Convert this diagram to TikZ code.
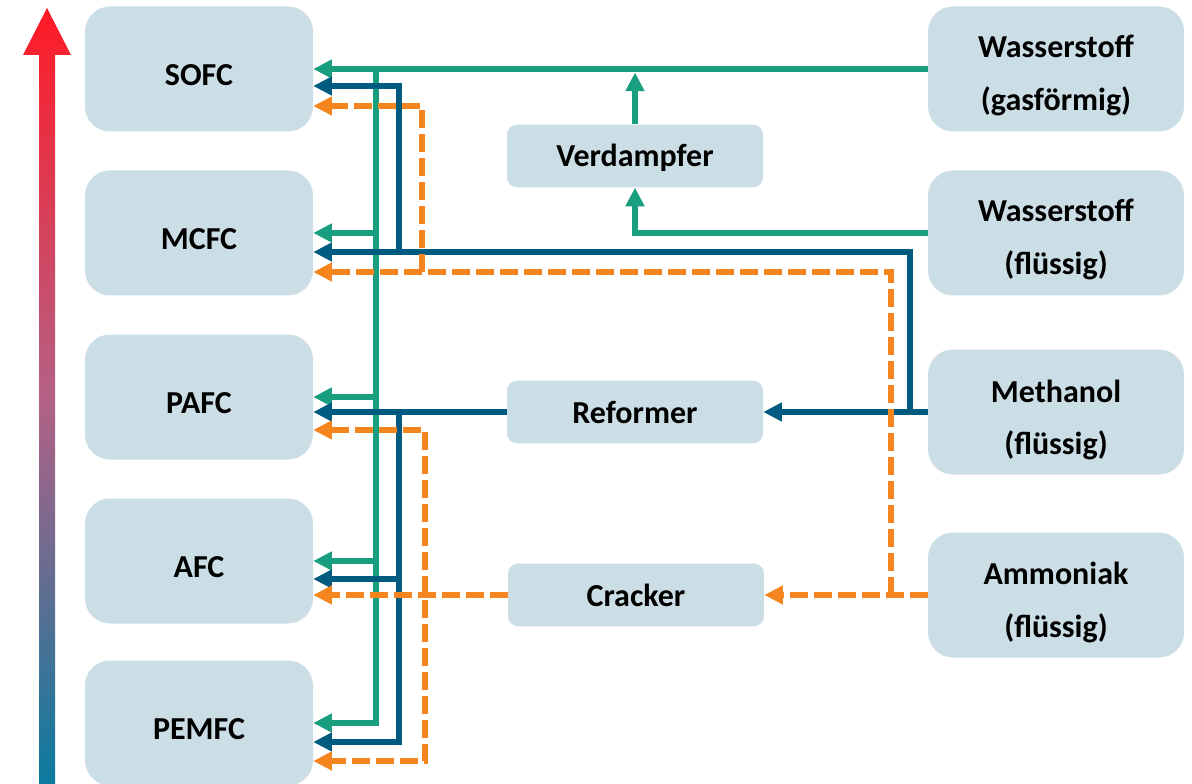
\documentclass[tikz,border=0pt]{standalone}
\usepackage{fontspec}
\setmainfont{Carlito}
\usetikzlibrary{arrows.meta,calc}

\definecolor{boxfill}{HTML}{CCDEE5}
\definecolor{hgreen}{HTML}{1A9E80}
\definecolor{mblue}{HTML}{005B80}
\definecolor{aorange}{HTML}{F5861F}
\definecolor{hot}{HTML}{FF1A25}
\definecolor{warm}{HTML}{B46185}
\definecolor{cold}{HTML}{0A7B9F}
\pgfdeclareverticalshading{heatbar}{100bp}{color(0bp)=(cold); color(25bp)=(cold);
  color(50bp)=(warm); color(75bp)=(hot); color(100bp)=(hot)}

\tikzset{
  cellbox/.style={rectangle, rounded corners=18.75pt, fill=boxfill,
    minimum width=171pt, minimum height=93.75pt, inner sep=0pt},
  srcbox/.style={cellbox, minimum width=192pt},
  procbox/.style={rectangle, rounded corners=7.5pt, fill=boxfill,
    minimum width=192pt, minimum height=47pt, inner sep=0pt},
  lbl/.style={anchor=base, inner sep=0pt},
  flow/.style={line width=4.3pt},
  tip/.style={-{Triangle[length=14pt,width=13.5pt]}},
  tips/.style={{Triangle[length=14pt,width=13.5pt]}-{Triangle[length=14pt,width=13.5pt]}},
  gflow/.style={flow, draw=hgreen},
  bflow/.style={flow, draw=mblue},
  oflow/.style={flow, draw=aorange, dash pattern=on 13.5pt off 4.5pt},
}

\begin{document}
\begin{tikzpicture}[x=0.75pt, y=-0.75pt, font=\bfseries\fontsize{24}{29}\selectfont]
\useasboundingbox (0,0) rectangle (1192,784);

% temperature arrow
\shade[shading=heatbar] (39,784) -- (39,55) -- (23,55) -- (47,8) -- (71,55)
  -- (55,55) -- (55,784) -- cycle;

% fuel cells
\node[cellbox] (sofc)  at (199,69)  {};
\node[cellbox] (mcfc)  at (199,233) {};
\node[cellbox] (pafc)  at (199,397) {};
\node[cellbox] (afc)   at (199,561) {};
\node[cellbox] (pemfc) at (199,723) {};
\node[lbl] (sofc-l)  at ($(sofc.center)+(0,16.5)$)  {SOFC};
\node[lbl] (mcfc-l)  at ($(mcfc.center)+(0,16.5)$)  {MCFC};
\node[lbl] (pafc-l)  at ($(pafc.center)+(0,16.5)$)  {PAFC};
\node[lbl] (afc-l)   at ($(afc.center)+(0,16.5)$)   {AFC};
\node[lbl] (pemfc-l) at ($(pemfc.center)+(0,16.5)$) {PEMFC};

% fuels
\node[srcbox] (wgas) at (1056,69)  {};
\node[srcbox] (wliq) at (1056,233) {};
\node[srcbox] (meth) at (1056,412) {};
\node[srcbox] (amm)  at (1056,595) {};
\node[lbl] (wgas-l1) at ($(wgas.center)+(0,-11)$) {Wasserstoff};
\node[lbl] (wgas-l2) at ($(wgas.center)+(0,42)$)  {(gasförmig)};
\node[lbl] (wliq-l1) at ($(wliq.center)+(0,-11)$) {Wasserstoff};
\node[lbl] (wliq-l2) at ($(wliq.center)+(0,42)$)  {(flüssig)};
\node[lbl] (meth-l1) at ($(meth.center)+(0,-10)$) {Methanol};
\node[lbl] (meth-l2) at ($(meth.center)+(0,42)$)  {(flüssig)};
\node[lbl] (amm-l1)  at ($(amm.center)+(0,-11)$)  {Ammoniak};
\node[lbl] (amm-l2)  at ($(amm.center)+(0,42)$)   {(flüssig)};

% processing steps
\node[procbox] (verd) at (635,156) {};
\node[procbox] (ref)  at (635,412) {};
\node[procbox] (crk)  at (636,595) {};
\node[lbl] (verd-l) at ($(verd.center)+(0,11)$) {Verdampfer};
\node[lbl] (ref-l)  at ($(ref.center)+(0,11)$)  {Reformer};
\node[lbl] (crk-l)  at ($(crk.center)+(0,11)$)  {Cracker};

% ports on the fuel cells
\coordinate (sofc-b)  at ($(sofc.east)+(0,17)$);
\coordinate (sofc-o)  at ($(sofc.east)+(0,37)$);
\coordinate (mcfc-b)  at ($(mcfc.east)+(0,19)$);
\coordinate (mcfc-o)  at ($(mcfc.east)+(0,39)$);
\coordinate (pafc-b)  at ($(pafc.east)+(0,15)$);
\coordinate (pafc-o)  at ($(pafc.east)+(0,33)$);
\coordinate (afc-b)   at ($(afc.east)+(0,18)$);
\coordinate (afc-o)   at ($(afc.east)+(0,34)$);
\coordinate (pemfc-b) at ($(pemfc.east)+(0,19)$);
\coordinate (pemfc-o) at ($(pemfc.east)+(0,38)$);

% bus lines
\coordinate (gx)  at (376,0);
\coordinate (bx)  at (399,0);
\coordinate (ox1) at (422,0);
\coordinate (ox2) at (425,0);
\coordinate (bsplit) at (910,0);
\coordinate (osplit) at (891,0);

% hydrogen
\draw[gflow,tip] (wgas.west) -- (sofc.east);
\draw[gflow,tip] (gx |- sofc.east) |- (pemfc.east);
\draw[gflow,tip] (gx |- mcfc.east) -- (mcfc.east);
\draw[gflow,tip] (gx |- pafc.east) -- (pafc.east);
\draw[gflow,tip] (gx |- afc.east) -- (afc.east);
\draw[gflow,tip] (wliq.west) -| (verd.south);
\draw[gflow,tip] (verd.north) -- ($(verd.north |- wgas.west)+(0,3.5)$);

% methanol
\draw[bflow,tip] (meth.west) -- (ref.east);
\draw[bflow,tip] (bsplit |- meth.west) |- (mcfc-b);
\draw[bflow,tip] (bx |- mcfc-b) |- (sofc-b);
\draw[bflow,tip] (ref.west) -- (pafc-b);
\draw[bflow,tip] (bx |- pafc-b) |- (pemfc-b);
\draw[bflow,tip] (bx |- afc-b) -- (afc-b);

% ammonia
\draw[oflow,tip] (amm.west) -- (crk.east);
\draw[oflow,tip] (osplit |- amm.west) |- (mcfc-o);
\draw[oflow,tip] (ox1 |- mcfc-o) |- (sofc-o);
\draw[oflow,tip] (crk.west) -- (afc-o);
\draw[oflow,tips] (pafc-o) -| (ox2 |- pemfc-o) -- (pemfc-o);
\end{tikzpicture}
\end{document}
